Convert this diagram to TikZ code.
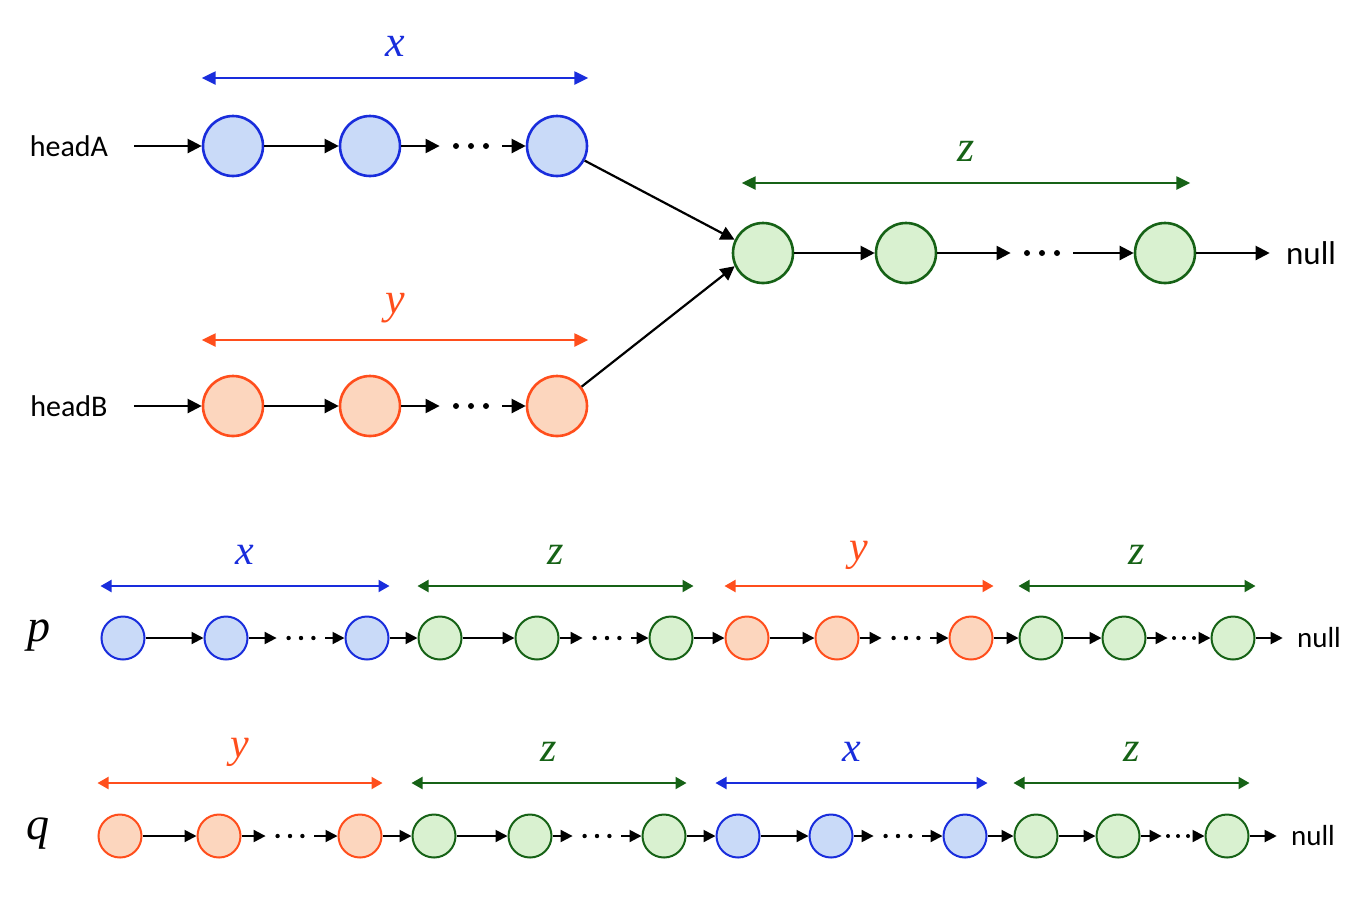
\documentclass[tikz,border=0pt]{standalone}
\usepackage{fontspec}
\setmainfont{Carlito}
\newfontfamily\lblfont{Liberation Serif}
\usetikzlibrary{arrows.meta}

\definecolor{ablue}{RGB}{25,45,220}
\definecolor{bluefill}{RGB}{201,218,248}
\definecolor{borange}{RGB}{255,78,28}
\definecolor{orangefill}{RGB}{252,214,190}
\definecolor{cgreen}{RGB}{22,98,22}
\definecolor{greenfill}{RGB}{217,241,208}

\tikzset{
  bigcell/.style={circle, minimum size=30pt, inner sep=0pt, line width=1.3pt},
  smallcell/.style={circle, minimum size=21.5pt, inner sep=0pt, line width=1pt},
  bnode/.style={draw=ablue, fill=bluefill},
  onode/.style={draw=borange, fill=orangefill},
  gnode/.style={draw=cgreen, fill=greenfill},
  bigdots/.style={minimum width=31pt, minimum height=8pt, inner sep=0pt},
  smalldots/.style={minimum width=24pt, minimum height=6pt, inner sep=0pt},
  tightdots/.style={minimum width=16pt, minimum height=6pt, inner sep=0pt},
  link/.style={-{Triangle[length=7pt,width=7pt]}, line width=1.1pt},
  slink/.style={-{Triangle[length=6pt,width=6pt]}, line width=1pt},
  measure/.style={{Triangle[length=7pt,width=6.5pt]}-{Triangle[length=7pt,width=6.5pt]}, line width=1.2pt},
  smeasure/.style={{Triangle[length=5.5pt,width=6pt]}-{Triangle[length=5.5pt,width=6pt]}, line width=1pt},
  headtxt/.style={font=\fontsize{15}{18}\selectfont, inner xsep=13pt},
  nulltxt/.style={font=\fontsize{16.5}{18}\selectfont, inner sep=8pt},
  snulltxt/.style={font=\fontsize{14.5}{17}\selectfont, inner sep=7pt},
  lbl/.style={midway, yshift=16pt, font=\lblfont\itshape\fontsize{22}{24}\selectfont},
  slbl/.style={midway, yshift=15.5pt, font=\lblfont\itshape\fontsize{21}{23}\selectfont},
  rowtxt/.style={font=\lblfont\itshape\fontsize{23}{25}\selectfont}
}

\begin{document}
\begin{tikzpicture}[x=0.5pt,y=-0.5pt]
\useasboundingbox (0,0) rectangle (1370,896);

% list A
\node[headtxt] (headA) at (69,146) {headA};
\node[bigcell,bnode] (a1) at (233,146) {};
\node[bigcell,bnode] (a2) at (370,146) {};
\node[bigdots] (adots) at (471,146) {};
\node[bigcell,bnode] (a3) at (557,146) {};
\draw[link] (headA) -- (a1);
\draw[link] (a1) -- (a2);
\draw[link] (a2) -- (adots);
\draw[link] (adots) -- (a3);
\draw[measure,ablue] ([yshift=34pt]a1.west) -- node[lbl,ablue] {x} ([yshift=34pt]a3.east);

% list B
\node[headtxt] (headB) at (69,406) {headB};
\node[bigcell,onode] (b1) at (233,406) {};
\node[bigcell,onode] (b2) at (370,406) {};
\node[bigdots] (bdots) at (471,406) {};
\node[bigcell,onode] (b3) at (557,406) {};
\draw[link] (headB) -- (b1);
\draw[link] (b1) -- (b2);
\draw[link] (b2) -- (bdots);
\draw[link] (bdots) -- (b3);
\draw[measure,borange] ([yshift=33pt]b1.west) -- node[lbl,borange] {y} ([yshift=33pt]b3.east);

% common part
\node[bigcell,gnode] (c1) at (763,253) {};
\node[bigcell,gnode] (c2) at (906,253) {};
\node[bigdots] (cdots) at (1042,253) {};
\node[bigcell,gnode] (c3) at (1165,253) {};
\node[nulltxt] (cnull) at (1311,253) {null};
\draw[link] (a3) -- (c1.155);
\draw[link] (b3) -- (c1.205);
\draw[link] (c1) -- (c2);
\draw[link] (c2) -- (cdots);
\draw[link] (cdots) -- (c3);
\draw[link] (c3) -- (cnull);
\draw[measure,cgreen] ([xshift=5pt,yshift=35pt]c1.west) -- node[lbl,cgreen] {z} ([xshift=-3pt,yshift=35pt]c3.east);

% pointer p
\node[rowtxt] (p) at (39,636) {p};
\foreach \x/\s [count=\i] in {123/bnode,226/bnode,367/bnode,440/gnode,537/gnode,671/gnode,
  747/onode,837/onode,971/onode,1041/gnode,1124/gnode,1233/gnode}
  \node[smallcell,\s] (p\i) at (\x,638) {};
\foreach \x [count=\i] in {301,607,906}
  \node[smalldots] (pd\i) at (\x,638) {};
\node[tightdots] (pd4) at (1184,638) {};
\node[snulltxt] (pnull) at (1319,638) {null};
\foreach \s/\t in {p1/p2,p2/pd1,pd1/p3,p3/p4,p4/p5,p5/pd2,pd2/p6,p6/p7,p7/p8,p8/pd3,pd3/p9,
  p9/p10,p10/p11,p11/pd4,pd4/p12,p12/pnull}
  \draw[slink] (\s) -- (\t);
\draw[smeasure,ablue] ([yshift=26pt]p1.west) -- node[slbl,ablue] {x} ([yshift=26pt]p3.east);
\draw[smeasure,cgreen] ([yshift=26pt]p4.west) -- node[slbl,cgreen] {z} ([yshift=26pt]p6.east);
\draw[smeasure,borange] ([yshift=26pt]p7.west) -- node[slbl,borange] {y} ([yshift=26pt]p9.east);
\draw[smeasure,cgreen] ([yshift=26pt]p10.west) -- node[slbl,cgreen] {z} ([yshift=26pt]p12.east);

% pointer q
\node[rowtxt] (q) at (38,834) {q};
\foreach \x/\s [count=\i] in {120/onode,219/onode,360/onode,434/gnode,530/gnode,664/gnode,
  738/bnode,831/bnode,965/bnode,1036/gnode,1118/gnode,1227/gnode}
  \node[smallcell,\s] (q\i) at (\x,836) {};
\foreach \x [count=\i] in {290,597,898}
  \node[smalldots] (qd\i) at (\x,836) {};
\node[tightdots] (qd4) at (1178,836) {};
\node[snulltxt] (qnull) at (1313,836) {null};
\foreach \s/\t in {q1/q2,q2/qd1,qd1/q3,q3/q4,q4/q5,q5/qd2,qd2/q6,q6/q7,q7/q8,q8/qd3,qd3/q9,
  q9/q10,q10/q11,q11/qd4,qd4/q12,q12/qnull}
  \draw[slink] (\s) -- (\t);
\draw[smeasure,borange] ([yshift=26.5pt]q1.west) -- node[slbl,borange] {y} ([yshift=26.5pt]q3.east);
\draw[smeasure,cgreen] ([yshift=26.5pt]q4.west) -- node[slbl,cgreen] {z} ([yshift=26.5pt]q6.east);
\draw[smeasure,ablue] ([yshift=26.5pt]q7.west) -- node[slbl,ablue] {x} ([yshift=26.5pt]q9.east);
\draw[smeasure,cgreen] ([yshift=26.5pt]q10.west) -- node[slbl,cgreen] {z} ([yshift=26.5pt]q12.east);

% the dots
\foreach \n in {adots,bdots,cdots}
  \foreach \d in {-7.5,0,7.5}
    \fill ([xshift=\d pt]\n.center) circle (1.5pt);
\foreach \n in {pd1,pd2,pd3,qd1,qd2,qd3}
  \foreach \d in {-6.2,0,6.2}
    \fill ([xshift=\d pt]\n.center) circle (1.1pt);
\foreach \n in {pd4,qd4}
  \foreach \d in {-5,0,5}
    \fill ([xshift=\d pt]\n.center) circle (1pt);
\end{tikzpicture}
\end{document}
